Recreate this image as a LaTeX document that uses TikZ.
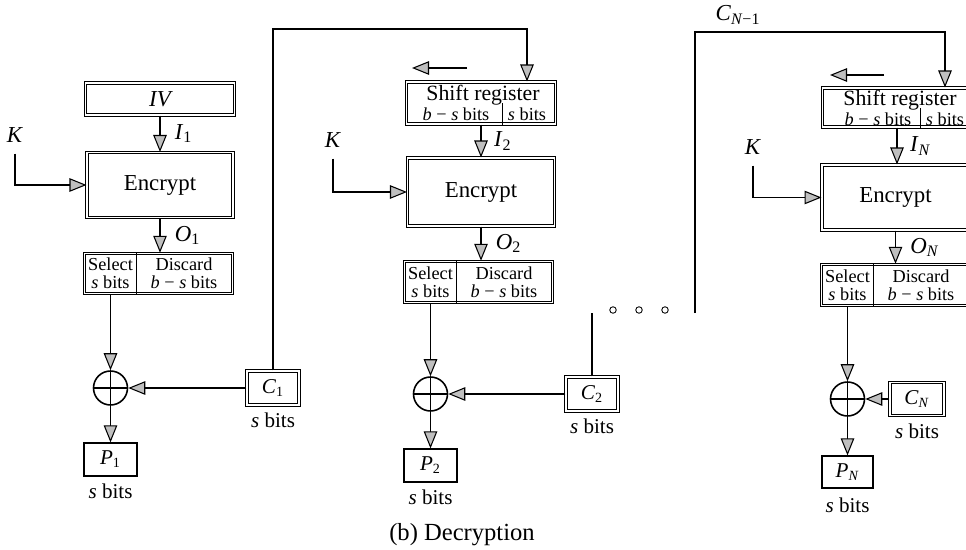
\documentclass[tikz,border=0pt]{standalone}
\usepackage{fontspec}
\setmainfont{Liberation Serif}
\usetikzlibrary{arrows.meta,fit}
\newcommand{\lbl}[2]{\textit{#1}\textsubscript{#2}}

\begin{document}
\begin{tikzpicture}[x=0.02cm, y=-0.02cm, line width=0.8pt,
	every node/.style={font=\fontsize{12}{14}\selectfont, inner sep=0pt},
	box/.style={draw, double, double distance=0.8pt, line width=0.6pt},
	sbox/.style={draw, line width=0.7pt},
	cell/.style={align=center, font=\fontsize{10.4}{10}\selectfont},
	lab/.style={font=\fontsize{13}{15}\selectfont},
	arr/.style={-{Triangle[length=0.34cm, width=0.27cm, fill=black!25, line width=0.6pt]}},
	xor/.style={draw, circle, minimum size=0.68cm, line width=0.9pt}]
	\useasboundingbox (0,0) rectangle (966,550);
	\clip (0,0) rectangle (966,550);

	% stage 1
	\node[box, minimum width=2.98cm, minimum height=0.64cm] (iv) at (160,99) {\itshape\fontsize{13}{15}\selectfont IV};
	\node[box, minimum width=2.92cm, minimum height=1.3cm] (enc1) at (160,185) {\fontsize{13}{15}\selectfont Encrypt};
	\node[cell, minimum width=1.02cm, minimum height=0.78cm] (sel1) at (110.5,273.5) {Select\\\textit{s} bits};
	\node[cell, minimum width=1.92cm, minimum height=0.78cm] (dis1) at (184,273.5) {Discard\\\textit{b} − \textit{s} bits};
	\node[box, fit=(sel1)(dis1)] (sd1) {};
	\draw[line width=0.6pt] (sel1.north east) -- (sel1.south east);
	\node[xor] (xor1) at (110.5,388) {};
	\node[box, minimum width=1.04cm, minimum height=0.68cm] (c1) at (273,388) {\lbl{C}{1}};
	\node[below=4pt] (c1s) at (c1.south) {\textit{s} bits};
	\node[sbox, minimum width=1.06cm, minimum height=0.66cm] (p1) at (110.5,459.5) {\lbl{P}{1}};
	\node[below=4pt] (p1s) at (p1.south) {\textit{s} bits};
	\node[lab] (k1) at (15,135) {\textit{K}};

	\draw[arr] (iv) -- (enc1) node[midway, right=8pt, lab] (i1) {\lbl{I}{1}};
	\draw[arr, shorten <=6pt] (k1.south) |- (enc1.west);
	\draw[arr] (enc1.south) -- (enc1.south |- sd1.north) node[midway, right=8pt, lab] (o1) {\lbl{O}{1}};
	\draw[arr] (sel1.south |- sd1.south) -- (xor1.north);
	\draw (xor1.north) -- (xor1.south) (xor1.west) -- (xor1.east);
	\draw[arr] (c1) -- (xor1);
	\draw[arr] (xor1) -- (p1);
	\coordinate (fb1) at (273,29);

	% stage 2
	\coordinate (sh2a) at (467,68);
	\coordinate (sh2b) at (412,68);
	\draw[arr] (sh2a) -- (sh2b);
	\node[box, minimum width=2.98cm, minimum height=0.84cm] (sr2) at (481,103) {};
	\node[font=\fontsize{12.4}{14}\selectfont] (sr2t) at (483,95) {Shift register};
	\node[cell] (sr2a) at (456,114) {\textit{b} − \textit{s} bits};
	\node[cell, minimum height=0.4cm, inner xsep=0.1cm] (sr2b) at (527,114) {\textit{s} bits};
	\draw[line width=0.6pt] (sr2b.north west) -- (sr2b.west |- sr2.south);
	\node[box, minimum width=2.94cm, minimum height=1.36cm] (enc2) at (481,192) {\fontsize{13}{15}\selectfont Encrypt};
	\node[cell, minimum width=1.02cm, minimum height=0.8cm] (sel2) at (430.5,282) {Select\\\textit{s} bits};
	\node[cell, minimum width=1.92cm, minimum height=0.8cm] (dis2) at (504,282) {Discard\\\textit{b} − \textit{s} bits};
	\node[box, fit=(sel2)(dis2)] (sd2) {};
	\draw[line width=0.6pt] (sel2.north east) -- (sel2.south east);
	\node[xor] (xor2) at (430.5,394) {};
	\node[box, minimum width=1.04cm, minimum height=0.68cm] (c2) at (592,394) {\lbl{C}{2}};
	\node[below=4pt] (c2s) at (c2.south) {\textit{s} bits};
	\node[sbox, minimum width=1.06cm, minimum height=0.66cm] (p2) at (430.5,465.5) {\lbl{P}{2}};
	\node[below=4pt] (p2s) at (p2.south) {\textit{s} bits};
	\node[lab] (k2) at (333,140) {\textit{K}};

	\draw[arr] (c1.north) -- (c1.north |- fb1) -| (sr2b |- sr2.north);
	\draw[arr] (sr2.south) -- (enc2.north) node[midway, right=7pt, lab] (i2) {\lbl{I}{2}};
	\draw[arr, shorten <=6pt] (k2.south) |- (enc2.west);
	\draw[arr] (enc2.south) -- (enc2.south |- sd2.north) node[midway, right=8pt, lab] (o2) {\lbl{O}{2}};
	\draw[arr] (sel2.south |- sd2.south) -- (xor2.north);
	\draw (xor2.north) -- (xor2.south) (xor2.west) -- (xor2.east);
	\draw[arr] (c2) -- (xor2);
	\draw[arr] (xor2) -- (p2);
	\coordinate (c2e) at (592,313);
	\draw (c2.north) -- (c2e);
	\foreach \x in {613,639,665}
		\node[draw, circle, minimum size=0.13cm, line width=0.5pt] (dot\x) at (\x,310) {};

	% stage N
	\coordinate (cne) at (695,313);
	\coordinate (fbN) at (695,32);
	\node[lab] (cn1) at (738,15) {\lbl{C}{\textit{N}−1}};
	\coordinate (shNa) at (884,75);
	\coordinate (shNb) at (830,75);
	\draw[arr] (shNa) -- (shNb);
	\node[box, minimum width=2.98cm, minimum height=0.78cm] (srN) at (897,107.5) {};
	\node[font=\fontsize{12.4}{14}\selectfont] (srNt) at (900,100) {Shift register};
	\node[cell] (srNa) at (878,119) {\textit{b} − \textit{s} bits};
	\node[cell, minimum height=0.4cm, inner xsep=0.1cm] (srNb) at (945,119) {\textit{s} bits};
	\draw[line width=0.6pt] (srNb.north west) -- (srNb.west |- srN.south);
	\node[box, minimum width=2.94cm, minimum height=1.3cm] (encN) at (895.5,197.5) {\fontsize{13}{15}\selectfont Encrypt};
	\node[cell, minimum width=1.02cm, minimum height=0.8cm] (selN) at (847.5,285) {Select\\\textit{s} bits};
	\node[cell, minimum width=1.92cm, minimum height=0.8cm] (disN) at (921,285) {Discard\\\textit{b} − \textit{s} bits};
	\node[box, fit=(selN)(disN)] (sdN) {};
	\draw[line width=0.6pt] (selN.north east) -- (selN.south east);
	\node[xor] (xorN) at (847.5,399) {};
	\node[box, minimum width=1.08cm, minimum height=0.66cm] (cN) at (917,399) {\lbl{C}{\textit{N}}};
	\node[below=4pt] (cNs) at (cN.south) {\textit{s} bits};
	\node[sbox, minimum width=1.02cm, minimum height=0.64cm] (pN) at (847.5,472) {\lbl{P}{\textit{N}}};
	\node[below=5pt] (pNs) at (pN.south) {\textit{s} bits};
	\node[lab] (kN) at (753,147) {\textit{K}};

	\draw[arr] (cne) -- (fbN) -| (srNb |- srN.north);
	\draw[arr] (srN.south) -- (srN.south |- encN.north) node[midway, right=7pt, lab] (iN) {\lbl{I}{\textit{N}}};
	\draw[arr, shorten <=6pt] (kN.south) |- (encN.west);
	\draw[arr] (encN.south) -- (encN.south |- sdN.north) node[midway, right=8pt, lab] (oN) {\lbl{O}{\textit{N}}};
	\draw[arr] (selN.south |- sdN.south) -- (xorN.north);
	\draw (xorN.north) -- (xorN.south) (xorN.west) -- (xorN.east);
	\draw[arr] (cN) -- (xorN);
	\draw[arr] (xorN) -- (pN);

	\node[font=\fontsize{14}{16}\selectfont] (cap) at (462,535) {(b) Decryption};
\end{tikzpicture}
\end{document}
